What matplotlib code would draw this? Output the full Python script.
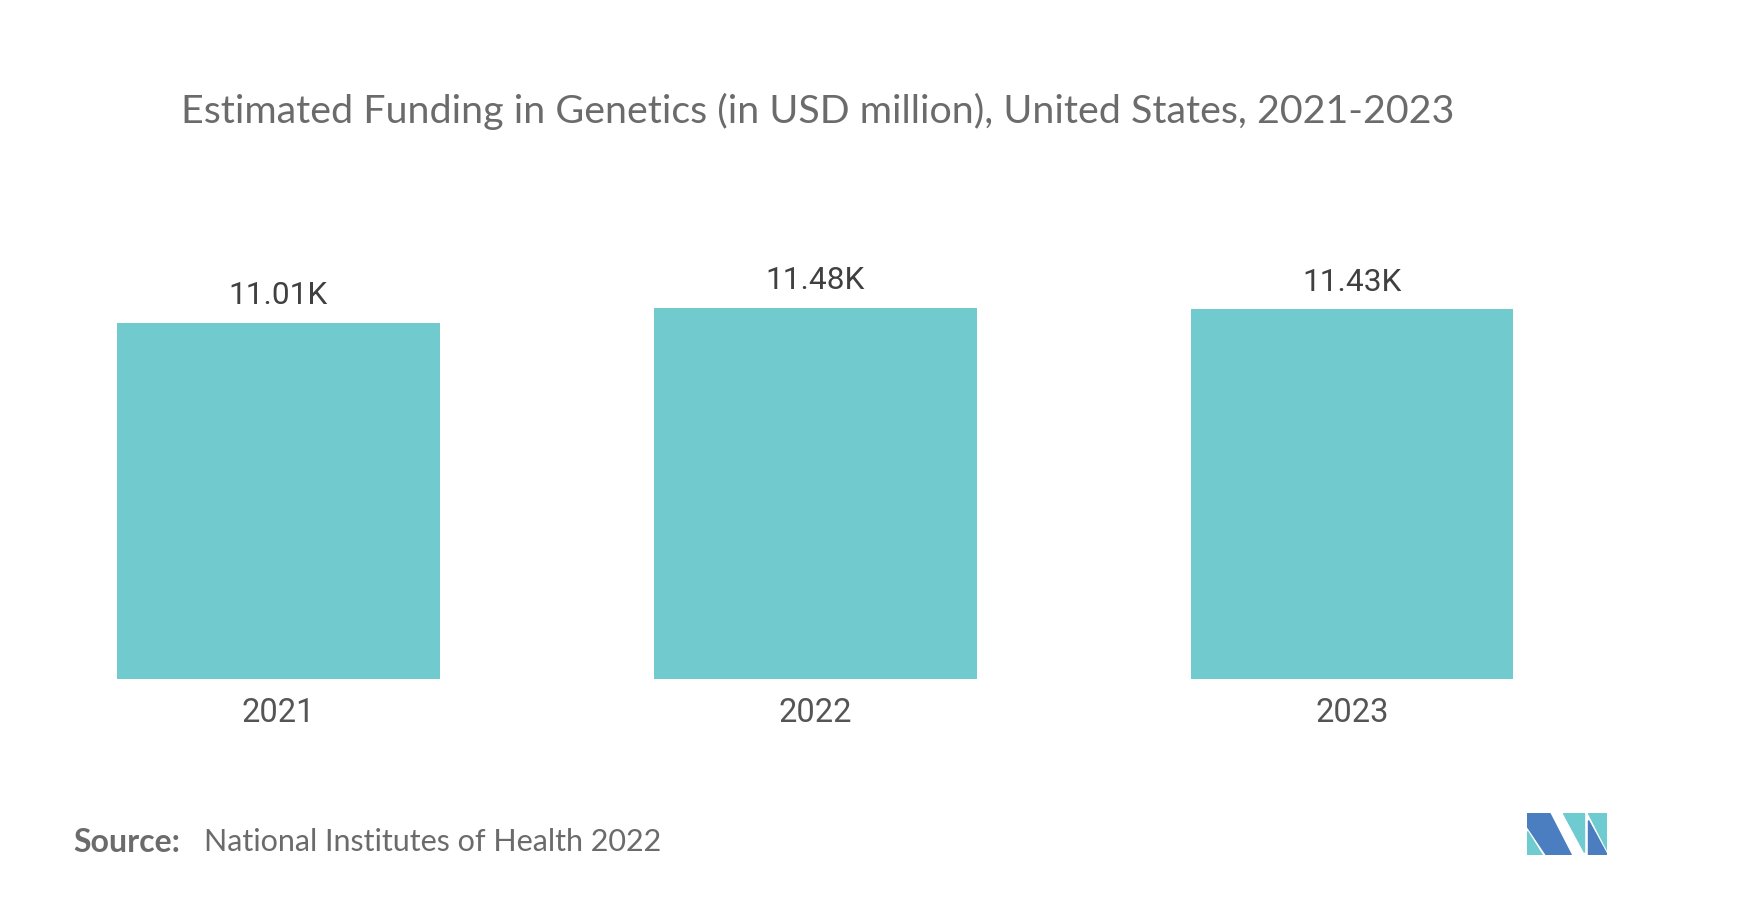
import matplotlib.pyplot as plt
from matplotlib.patches import Polygon

# Chart data
years = ["2021", "2022", "2023"]
funding = [11010, 11480, 11430]
value_labels = ["11.01K", "11.48K", "11.43K"]

title = "Estimated Funding in Genetics (in USD million), United States, 2021-2023"
source_name = "National Institutes of Health 2022"

bar_color = "#71CBCE"

fig = plt.figure(figsize=(17.44, 9.02), dpi=100)

# Main bar axes
ax = fig.add_axes([0.0057, 0.2472, 0.9237, 0.4756])
x = range(len(years))
bars = ax.bar(x, funding, width=0.6, color=bar_color)
ax.set_xlim(-0.5, 2.5)
ax.set_ylim(0, 13266)

for b, lab in zip(bars, value_labels):
    ax.annotate(lab, (b.get_x() + b.get_width() / 2, b.get_height()),
                xytext=(0, 9), textcoords="offset points",
                ha="center", va="bottom", fontsize=22.8,
                family="Roboto", color="#404040")

ax.set_xticks(list(x))
ax.set_xticklabels(years, fontsize=23.5, family="Roboto", color="#555555")
ax.tick_params(axis="x", length=0, pad=13)
ax.set_yticks([])
for s in ax.spines.values():
    s.set_visible(False)

# Title and source
fig.text(0.1038, 0.877, title, fontsize=28.4, family="Lato", color="#6b6b6b",
         ha="left", va="center")
fig.text(0.042, 0.066, "Source:", fontsize=23, family="Lato", weight="bold",
         color="#6b6b6b", ha="left", va="center")
fig.text(0.1167, 0.066, source_name, fontsize=22, family="Lato",
         color="#6b6b6b", ha="left", va="center")

# Logo
lax = fig.add_axes([1527 / 1744, 1 - 855 / 902, 80 / 1744, 42 / 902])
lax.set_xlim(0, 240)
lax.set_ylim(127, 0)
lax.axis("off")
dark = "#4A7EC0"
teal = "#6ECBCF"
lax.add_patch(Polygon([(0, 0), (68, 0), (133, 127), (58, 127), (0, 40)], color=dark))
lax.add_patch(Polygon([(0, 55), (0, 127), (45, 127)], color=teal))
lax.add_patch(Polygon([(108, 0), (170, 0), (170, 118)], color=teal))
lax.add_patch(Polygon([(182, 0), (240, 0), (240, 112)], color=teal))
lax.add_patch(Polygon([(182, 22), (182, 127), (240, 127)], color=dark))

fig.savefig("out.png", dpi=100, facecolor="white")
